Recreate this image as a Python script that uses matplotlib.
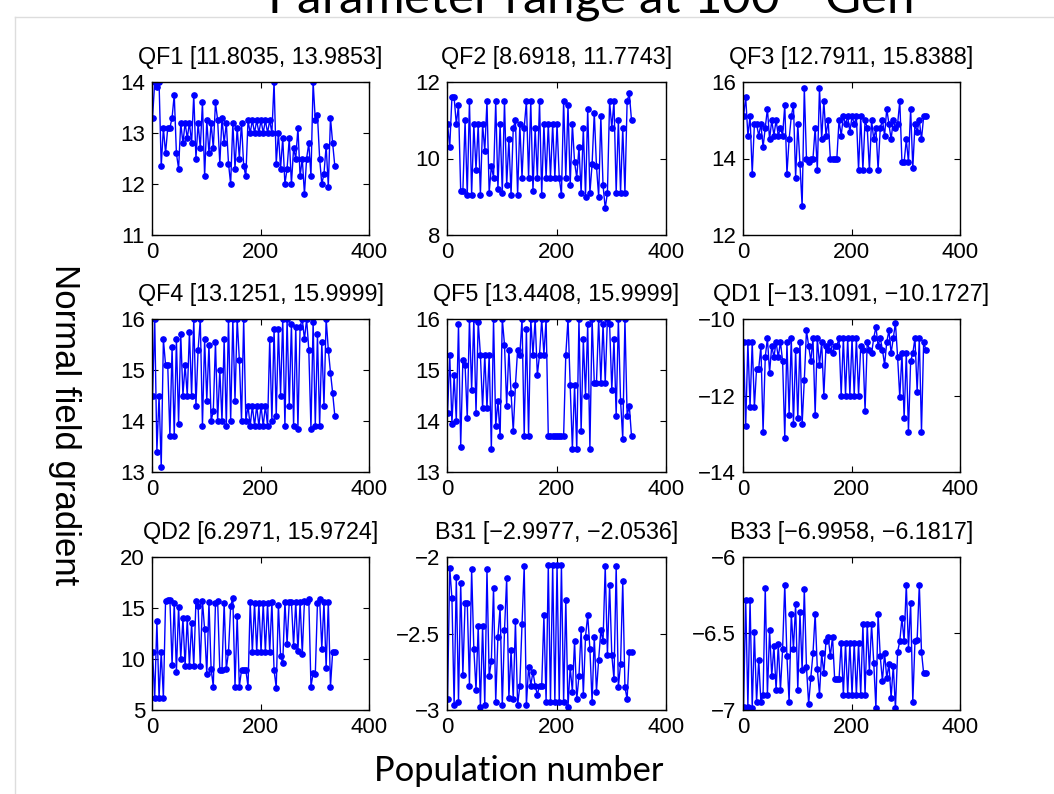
import matplotlib
matplotlib.use('Agg')
import matplotlib.pyplot as plt
from matplotlib.ticker import FuncFormatter
import numpy as np

plt.rcParams['font.family'] = ['Liberation Sans', 'DejaVu Sans']
plt.rcParams['mathtext.fontset'] = 'custom'
plt.rcParams['mathtext.rm'] = 'Lato'

# population index (sampled every 4th member)
pop = np.arange(1, 341, 4)

names = ['QF1 [11.8035, 13.9853]', 'QF2 [8.6918, 11.7743]', 'QF3 [12.7911, 15.8388]',
         'QF4 [13.1251, 15.9999]', 'QF5 [13.4408, 15.9999]', 'QD1 [\u221213.1091, \u221210.1727]',
         'QD2 [6.2971, 15.9724]', 'B31 [\u22122.9977, \u22122.0536]', 'B33 [\u22126.9958, \u22126.1817]']

qf1 = [13.3, 14.0, 13.9, 14.0, 12.35, 13.1, 12.6, 13.1, 13.1, 13.3, 13.75, 12.6, 12.3, 13.2, 12.8,
       13.2, 12.9, 13.2, 12.8, 13.75, 12.5, 13.2, 12.7, 13.6, 12.15, 13.25, 12.6, 13.2, 12.7, 13.6,
       13.25, 12.4, 13.3, 12.8, 13.2, 12.4, 12.0, 13.2, 12.3, 13.1, 12.5, 13.2, 12.35, 12.15, 13.25,
       13.0, 13.25, 13.0, 13.25, 13.0, 13.25, 13.0, 13.25, 13.0, 13.25, 13.0, 14.0, 12.4, 13.0, 12.3,
       12.9, 12.0, 12.3, 12.9, 12.0, 12.7, 12.5, 13.1, 12.15, 12.5, 11.8, 12.5, 12.8, 12.15, 14.0,
       13.25, 13.35, 12.5, 12.0, 12.2, 12.75, 11.95, 13.3, 12.8, 12.35]
qf2 = [10.9, 10.3, 11.6, 11.6, 10.9, 11.4, 9.15, 9.15, 11.0, 9.05, 11.5, 9.05, 10.9, 9.7, 10.9,
       9.05, 10.9, 10.2, 11.5, 9.1, 9.8, 9.5, 11.5, 9.2, 10.9, 9.1, 11.5, 9.3, 10.5, 9.05,
       10.8, 11.0, 9.05, 10.9, 9.5, 10.8, 11.5, 9.5, 11.5, 9.15, 10.8, 9.5, 11.5, 9.05, 10.9,
       9.5, 10.9, 9.5, 10.9, 9.5, 10.9, 9.5, 9.05, 11.5, 9.5, 11.4, 9.3, 10.9, 9.9, 9.5,
       10.3, 9.1, 10.8, 9.0, 11.3, 9.1, 9.85, 11.2, 9.8, 9.0, 11.1, 9.3, 8.7, 9.1, 11.5,
       10.8, 11.5, 9.1, 11.0, 9.1, 10.8, 9.1, 11.5, 11.7, 11.0]
qf3 = [15.1, 15.6, 14.6, 15.1, 13.6, 14.9, 14.9, 14.6, 14.9, 14.3, 14.8, 15.3, 14.5, 15.0, 14.6,
       15.0, 14.6, 14.8, 14.6, 15.4, 13.6, 14.5, 15.1, 15.4, 13.5, 14.9, 13.85, 12.75, 15.85, 14.0,
       13.9, 14.0, 14.0, 14.8, 13.7, 15.85, 14.5, 15.5, 14.6, 15.0, 14.0, 14.0, 14.0, 14.0, 15.0,
       14.6, 15.1, 14.9, 15.1, 14.7, 15.1, 14.9, 15.1, 13.7, 15.1, 13.7, 15.0, 14.8, 13.7, 15.0,
       14.5, 14.8, 13.7, 14.8, 15.0, 14.6, 15.3, 14.9, 14.5, 15.0, 14.8, 14.9, 15.5, 13.9, 13.9,
       14.5, 13.9, 15.3, 13.75, 14.9, 14.7, 15.0, 14.5, 15.1, 15.1]
qf4 = [14.5, 16.0, 13.4, 14.5, 13.1, 15.6, 15.1, 15.1, 13.7, 15.45, 13.7, 15.6, 13.95, 15.7, 14.5,
       15.1, 14.5, 15.75, 14.5, 16.0, 14.3, 15.4, 16.0, 13.9, 15.6, 14.4, 15.5, 14.0, 14.2, 15.55,
       14.0, 15.0, 14.0, 15.6, 13.9, 16.0, 14.0, 16.0, 14.4, 16.0, 15.2, 14.0, 16.0, 14.0, 14.3,
       13.9, 14.3, 13.9, 14.3, 13.9, 14.3, 13.9, 14.3, 13.9, 15.6, 14.0, 15.8, 14.1, 15.8, 14.5,
       16.0, 13.9, 16.0, 14.3, 15.9, 13.9, 15.85, 13.85, 15.85, 16.0, 15.6, 16.0, 15.4, 13.85, 15.95,
       13.9, 15.7, 13.9, 15.55, 14.3, 16.0, 15.4, 14.95, 14.55, 14.1]
qf5 = [14.15, 15.3, 13.95, 14.9, 14.0, 15.9, 13.5, 15.2, 15.1, 14.05, 16.0, 14.6, 16.0, 14.15, 15.95,
       15.3, 14.25, 15.3, 14.25, 15.3, 13.45, 16.0, 13.9, 14.4, 13.7, 16.0, 15.5, 14.3, 15.4, 14.55,
       13.8, 14.7, 15.4, 15.3, 16.0, 13.7, 15.8, 13.7, 16.0, 15.3, 16.0, 14.9, 15.3, 16.0, 15.3,
       16.0, 13.7, 13.7, 13.7, 13.7, 13.7, 13.7, 13.7, 13.7, 15.3, 16.0, 14.7, 13.45, 14.7, 13.45,
       16.0, 13.8, 15.6, 14.5, 15.9, 13.45, 16.0, 14.75, 14.75, 16.0, 14.75, 15.9, 14.75, 16.0, 15.9,
       14.6, 15.6, 14.1, 16.0, 14.4, 13.65, 16.0, 14.1, 14.3, 13.7]
qd1 = [-10.6, -12.8, -10.6, -12.3, -10.6, -12.3, -11.3, -11.3, -10.7, -12.95, -11.0, -10.5, -11.4, -10.7, -11.0,
       -10.6, -11.0, -10.6, -11.1, -13.1, -10.6, -12.5, -10.5, -12.75, -10.8, -12.6, -10.6, -12.75, -11.6, -10.3,
       -10.7, -11.1, -10.5, -12.5, -10.5, -11.2, -10.6, -12.0, -10.7, -10.8, -10.6, -10.9, -10.7, -10.7, -10.5,
       -12.0, -10.5, -12.0, -10.5, -12.0, -10.5, -12.0, -10.5, -12.0, -10.7, -10.8, -12.4, -10.6, -10.8, -10.9,
       -10.5, -10.2, -10.7, -10.5, -10.8, -11.2, -10.6, -10.3, -10.9, -10.5, -10.1, -11.0, -12.05, -10.9, -12.6,
       -10.9, -12.95, -11.1, -10.9, -10.5, -11.9, -10.5, -12.95, -10.6, -10.8]
qd2 = [10.7, 6.2, 13.7, 6.2, 10.7, 6.2, 15.7, 15.8, 15.8, 9.4, 15.5, 8.7, 15.1, 10.0, 14.0,
       9.3, 14.0, 9.3, 13.5, 9.3, 15.7, 15.2, 9.3, 15.7, 12.9, 8.5, 15.6, 9.0, 7.3, 15.5,
       15.7, 8.9, 8.9, 15.5, 9.0, 10.7, 15.2, 16.0, 7.3, 14.2, 7.3, 8.9, 8.9, 8.9, 7.3,
       15.6, 10.7, 15.5, 10.7, 15.5, 10.7, 15.5, 10.7, 15.5, 10.7, 15.6, 8.9, 7.2, 15.3, 10.3,
       9.6, 15.6, 11.5, 15.6, 15.6, 11.3, 15.6, 10.8, 15.6, 10.5, 15.7, 15.6, 15.9, 7.3, 8.6,
       8.5, 15.5, 15.9, 11.0, 15.6, 9.1, 15.6, 7.3, 10.7, 10.7]
b31 = [-2.93, -2.07, -2.27, -2.97, -2.13, -2.95, -2.17, -2.77, -2.3, -2.3, -2.84, -2.08, -2.6, -2.87, -2.45,
       -2.98, -2.45, -2.97, -2.08, -2.78, -2.68, -2.2, -2.95, -2.52, -2.33, -2.97, -2.48, -2.14, -2.92, -2.61,
       -2.93, -2.42, -2.97, -2.84, -2.44, -2.06, -2.97, -2.72, -2.84, -2.75, -2.84, -2.9, -2.84, -2.84, -2.38,
       -2.95, -2.05, -2.95, -2.05, -2.95, -2.05, -2.95, -2.05, -2.95, -2.28, -2.98, -2.72, -2.88, -2.55, -2.93,
       -2.78, -2.47, -2.9, -2.52, -2.38, -2.6, -2.95, -2.52, -2.88, -2.67, -2.48, -2.55, -2.06, -2.64, -2.18,
       -2.64, -2.8, -2.06, -2.85, -2.7, -2.16, -2.85, -2.93, -2.62, -2.62]
b33 = [-6.98, -6.28, -6.98, -6.28, -6.99, -6.49, -6.95, -6.67, -6.95, -6.9, -6.2, -6.9, -6.48, -6.78, -6.58,
       -6.87, -6.57, -6.87, -6.6, -6.18, -6.65, -6.95, -6.37, -6.6, -6.31, -6.87, -6.36, -6.74, -6.21, -6.72,
       -6.96, -6.79, -6.63, -6.37, -6.73, -6.9, -6.63, -6.76, -6.55, -6.52, -6.65, -6.52, -6.8, -6.8, -6.8,
       -6.56, -6.9, -6.56, -6.9, -6.56, -6.9, -6.56, -6.9, -6.56, -6.9, -6.44, -6.9, -6.44, -6.75, -6.44,
       -6.69, -6.99, -6.37, -6.65, -6.81, -6.63, -6.79, -6.7, -6.92, -6.71, -6.99, -6.62, -6.55, -6.4, -6.55,
       -6.18, -6.6, -6.3, -6.95, -6.55, -6.54, -6.18, -6.62, -6.76, -6.76]

series = [qf1, qf2, qf3, qf4, qf5, qd1, qd2, b31, b33]
ylims = [(11, 14), (8, 12), (12, 16), (13, 16), (13, 16), (-14, -10), (5, 20), (-3, -2), (-7, -6)]
yticks = [[11, 12, 13, 14], [8, 10, 12], [12, 14, 16], [13, 14, 15, 16], [13, 14, 15, 16],
          [-14, -12, -10], [5, 10, 15, 20], [-3, -2.5, -2], [-7, -6.5, -6]]

# matlab-like tick labels: -2 not -2.0, with a real minus sign
fmt = FuncFormatter(lambda v, p: ('%g' % v).replace('-', '\u2212'))

W, H = 1054, 794
fig = plt.figure(figsize=(W / 100, H / 100), dpi=100)

# faint slide border
fig.add_artist(plt.Line2D([15 / W, 15 / W], [0, 1 - 17 / H], color='#dddddd', lw=1))
fig.add_artist(plt.Line2D([15 / W, 1], [1 - 17 / H, 1 - 17 / H], color='#dddddd', lw=1))

col_left = [152, 447, 743]
col_w = [217, 219, 217]
row_top = [82, 319, 557]
row_h = 153

for k in range(9):
    r, c = divmod(k, 3)
    ax = fig.add_axes([col_left[c] / W, 1 - (row_top[r] + row_h) / H, col_w[c] / W, row_h / H])
    ax.plot(pop, series[k], '-o', color='b', lw=1, ms=3.8)
    ax.set_xlim(0, 400)
    ax.set_ylim(*ylims[k])
    ax.set_xticks([0, 200, 400])
    ax.set_yticks(yticks[k])
    ax.xaxis.set_major_formatter(fmt)
    ax.yaxis.set_major_formatter(fmt)
    ax.tick_params(direction='in', top=True, right=True, length=4, width=0.8,
                   labelsize=16, pad=5)
    for s in ax.spines.values():
        s.set_linewidth(1)
    ax.set_title(names[k], fontsize=16.8, pad=13)

fig.text(64 / W, 1 - 425 / H, 'Normal field gradient', rotation=-90, fontsize=25,
         ha='center', va='center')
fig.text(519 / W, 1 - 771 / H, 'Population number', family=['Lato', 'DejaVu Sans'],
         fontsize=24.8, ha='center', va='center')
fig.text(590 / W, 1 - 14 / H, 'Parameter range at 100$^{\\mathrm{th}}$ Gen',
         family=['Lato', 'DejaVu Sans'], fontsize=35.5, ha='center', va='baseline')

fig.savefig('out.png', dpi=100, facecolor='white')
